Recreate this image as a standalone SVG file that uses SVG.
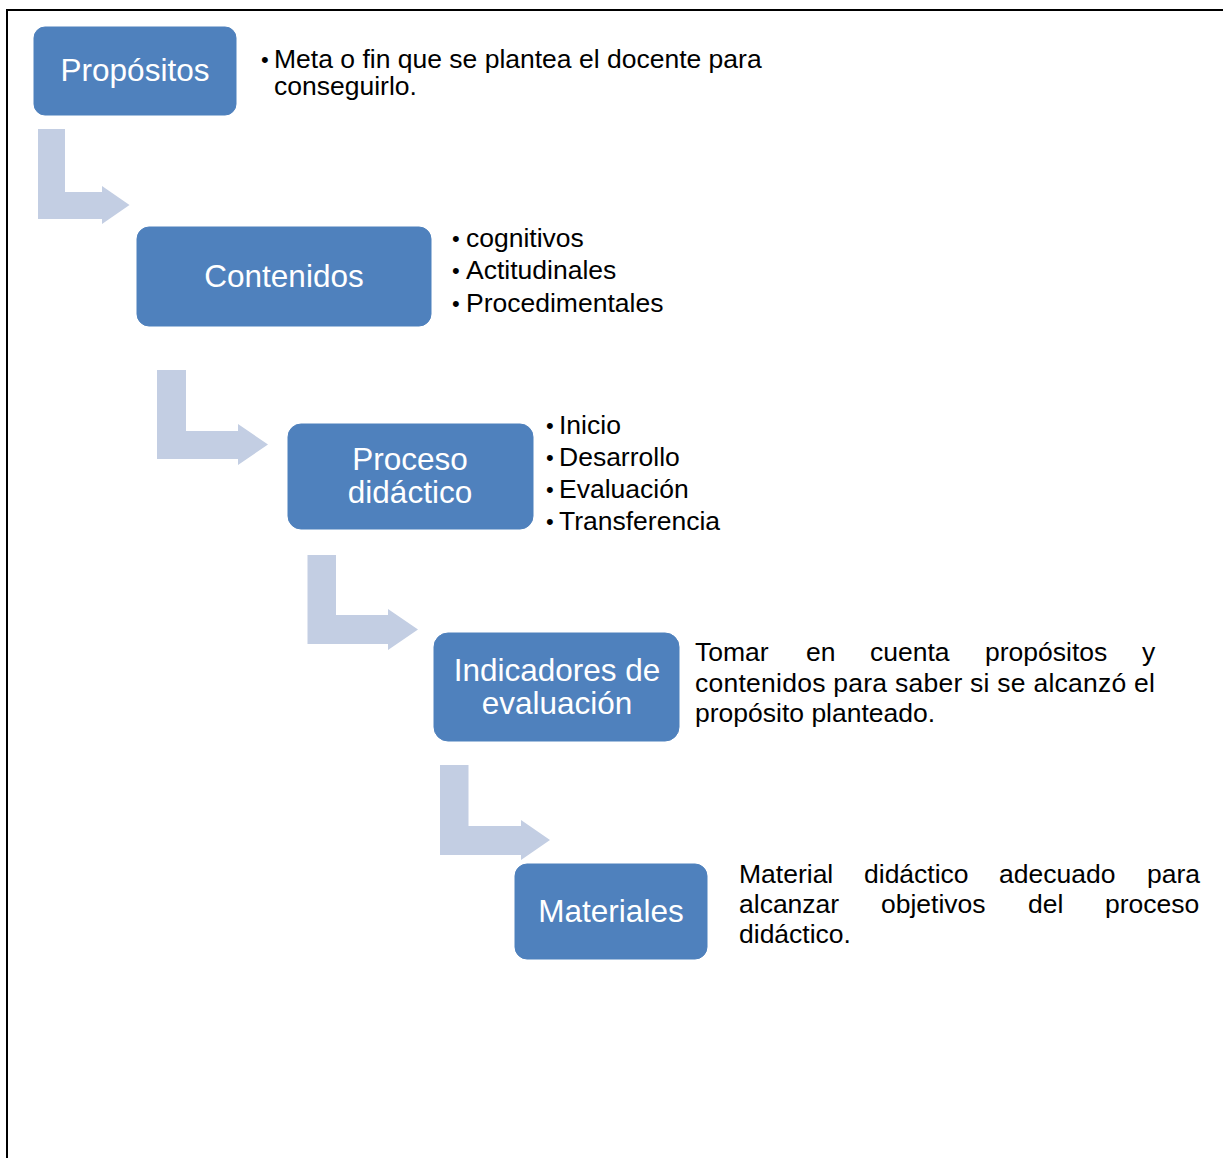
<svg xmlns="http://www.w3.org/2000/svg" width="1223" height="1158" viewBox="0 0 1223 1158">
<style>
.box{fill:#4F81BD;stroke:#4F81BD;stroke-width:1}
.bt{font-family:"Liberation Sans",Arial,sans-serif;font-size:31.5px;fill:#FFFFFF;text-anchor:middle}
.tx{font-family:"Liberation Sans",Arial,sans-serif;font-size:26.5px;fill:#000000}
.bu{font-family:"Liberation Sans",Arial,sans-serif;font-size:22px;fill:#000000}
.arr{fill:#C3CEE3}
</style>
<rect x="0" y="0" width="1223" height="1158" fill="#FFFFFF"/>
<path d="M7 1158 V10 H1223" fill="none" stroke="#000000" stroke-width="2"/>
<g id="connectors">
<path class="arr" d="M38 129 H65 V192 H102 V186 L129.5 205 L102 224 V219 H38 Z"/>
<path class="arr" d="M157 370 H186 V431 H238 V424 L268 444.5 L238 465 V459 H157 Z"/>
<path class="arr" d="M307.5 555 H336 V615 H388 V609 L418 629.5 L388 650 V644 H307.5 Z"/>
<path class="arr" d="M440 765 H468.5 V826 H521 V820 L550 840 L521 860 V855 H440 Z"/>
</g>
<g id="node-propositos">
<rect class="box" x="34" y="27" width="202" height="88" rx="11"/>
<text class="bt" x="135" y="81">Propósitos</text>
</g>
<g id="text-propositos">
<text class="bu" x="261" y="67">•</text>
<text class="tx" x="274" y="68">Meta o fin que se plantea el docente para</text>
<text class="tx" x="274" y="95">conseguirlo.</text>
</g>
<g id="node-contenidos">
<rect class="box" x="137" y="227" width="294" height="99" rx="12"/>
<text class="bt" x="284" y="287">Contenidos</text>
</g>
<g id="text-contenidos">
<text class="bu" x="452" y="246">•</text>
<text class="tx" x="466" y="247">cognitivos</text>
<text class="bu" x="452" y="278">•</text>
<text class="tx" x="466" y="279">Actitudinales</text>
<text class="bu" x="452" y="311">•</text>
<text class="tx" x="466" y="312">Procedimentales</text>
</g>
<g id="node-proceso">
<rect class="box" x="288" y="424" width="245" height="105" rx="13"/>
<text class="bt" x="410" y="470">Proceso</text>
<text class="bt" x="410" y="503">didáctico</text>
</g>
<g id="text-proceso">
<text class="bu" x="546" y="433">•</text>
<text class="tx" x="559" y="434">Inicio</text>
<text class="bu" x="546" y="465">•</text>
<text class="tx" x="559" y="466">Desarrollo</text>
<text class="bu" x="546" y="497">•</text>
<text class="tx" x="559" y="498">Evaluación</text>
<text class="bu" x="546" y="529">•</text>
<text class="tx" x="559" y="530">Transferencia</text>
</g>
<g id="node-indicadores">
<rect class="box" x="434" y="633" width="245" height="108" rx="14"/>
<text class="bt" x="557" y="681">Indicadores de</text>
<text class="bt" x="557" y="714">evaluación</text>
</g>
<g id="text-indicadores">
<text class="tx" y="661"><tspan x="695">Tomar</tspan><tspan x="806">en</tspan><tspan x="870">cuenta</tspan><tspan x="985">propósitos</tspan><tspan x="1142">y</tspan></text>
<text class="tx" x="695" y="692" textLength="460" lengthAdjust="spacing">contenidos para saber si se alcanzó el</text>
<text class="tx" x="695" y="722">propósito planteado.</text>
</g>
<g id="node-materiales">
<rect class="box" x="515" y="864" width="192" height="95" rx="12"/>
<text class="bt" x="611" y="922">Materiales</text>
</g>
<g id="text-materiales">
<text class="tx" y="883"><tspan x="739">Material</tspan><tspan x="864">didáctico</tspan><tspan x="999">adecuado</tspan><tspan x="1147">para</tspan></text>
<text class="tx" y="913"><tspan x="739">alcanzar</tspan><tspan x="881">objetivos</tspan><tspan x="1028">del</tspan><tspan x="1105">proceso</tspan></text>
<text class="tx" x="739" y="943">didáctico.</text>
</g>
</svg>
